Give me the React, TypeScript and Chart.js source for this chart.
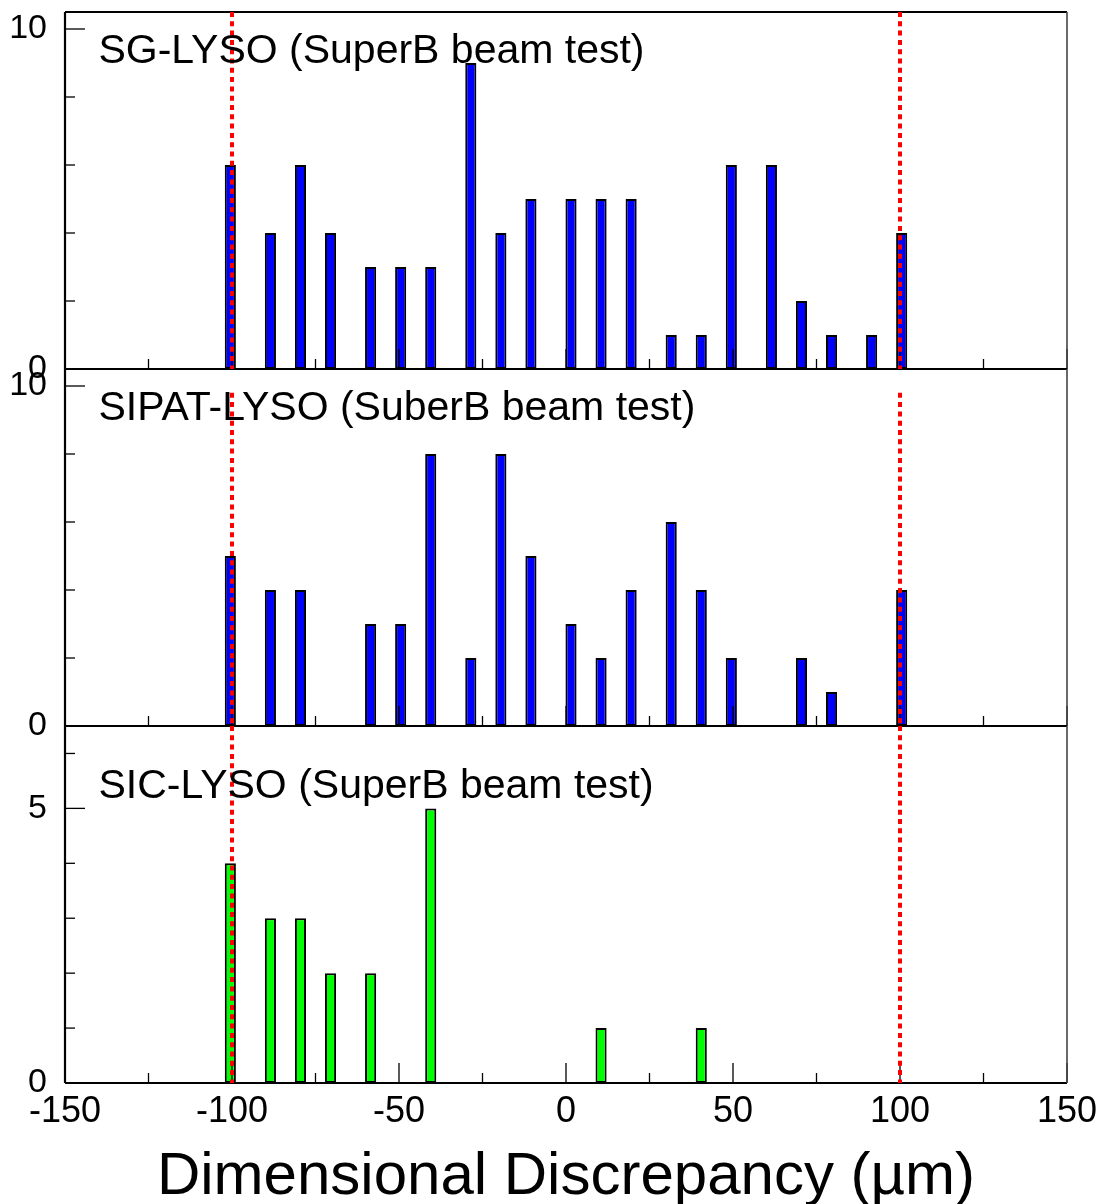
import { useEffect, useRef } from 'react';
import { Chart, registerables } from 'chart.js';

Chart.register(...registerables);

// ---- data (bin centres in µm, counts) ----
const sgX = [-100.5, -88.5, -79.5, -70.5, -58.5, -49.5, -40.5, -28.5, -19.5, -10.5, 1.5, 10.5, 19.5, 31.5, 40.5, 49.5, 61.5, 70.5, 79.5, 91.5, 100.5];
const sgCounts = [6, 4, 6, 4, 3, 3, 3, 9, 4, 5, 5, 5, 5, 1, 1, 6, 6, 2, 1, 1, 4];

const sipatX = [-100.5, -88.5, -79.5, -58.5, -49.5, -40.5, -28.5, -19.5, -10.5, 1.5, 10.5, 19.5, 31.5, 40.5, 49.5, 70.5, 79.5, 100.5];
const sipatCounts = [5, 4, 4, 3, 3, 8, 2, 8, 5, 3, 2, 4, 6, 4, 2, 2, 1, 4];

const sicX = [-100.5, -88.5, -79.5, -70.5, -58.5, -40.5, 10.5, 40.5];
const sicCounts = [4, 3, 3, 2, 2, 5, 1, 1];

const panelLabels = ['SG-LYSO (SuperB beam test)', 'SIPAT-LYSO (SuberB beam test)', 'SIC-LYSO (SuperB beam test)'];

// axes
const xMin = -150;
const xMax = 150;
const xMajorTicks = [-150, -100, -50, 0, 50, 100, 150];
const xMinorTicks = [-125, -75, -25, 25, 75, 125];
const sgYMax = 10.5;
const sipatYMax = 10.5;
const sicYMax = 6.5;
const sgYTicks = [0, 10];
const sipatYTicks = [0, 10];
const sicYTicks = [0, 5];
const sgYMinor = [2, 4, 6, 8];
const sipatYMinor = [2, 4, 6, 8];
const sicYMinor = [1, 2, 3, 4, 6];
const limitLines = [-100, 100];
const xTitle = 'Dimensional Discrepancy (µm)';

const FONT = '"Liberation Sans", Arial, Helvetica, sans-serif';

type PanelDef = { id: string; major: number[]; minor: number[]; label: string; labelOffset: number; redTop: number | null };

const panels: PanelDef[] = [
  { id: 'ySg', major: sgYTicks, minor: sgYMinor, label: panelLabels[0], labelOffset: 51, redTop: null },
  { id: 'ySipat', major: sipatYTicks, minor: sipatYMinor, label: panelLabels[1], labelOffset: 51, redTop: 9.8 },
  { id: 'ySic', major: sicYTicks, minor: sicYMinor, label: panelLabels[2], labelOffset: 72, redTop: null },
];

const line = (ctx: CanvasRenderingContext2D, x1: number, y1: number, x2: number, y2: number) => {
  ctx.beginPath();
  ctx.moveTo(x1, y1);
  ctx.lineTo(x2, y2);
  ctx.stroke();
};

const panelPlugin = {
  id: 'panelDecor',
  afterDatasetsDraw(chart: any) {
    const ctx: CanvasRenderingContext2D = chart.ctx;
    const xs = chart.scales.x;
    const { left, right } = chart.chartArea;
    ctx.save();
    panels.forEach((p) => {
      const ys = chart.scales[p.id];
      // x ticks (inside, upward)
      ctx.strokeStyle = '#000';
      ctx.lineWidth = 1.3;
      xMajorTicks.forEach((v) => {
        const px = xs.getPixelForValue(v);
        line(ctx, px, ys.bottom, px, ys.bottom - 20);
      });
      xMinorTicks.forEach((v) => {
        const px = xs.getPixelForValue(v);
        line(ctx, px, ys.bottom, px, ys.bottom - 10);
      });
      // y ticks
      p.major.forEach((v) => {
        const py = ys.getPixelForValue(v);
        line(ctx, left, py, left + 20, py);
      });
      p.minor.forEach((v) => {
        const py = ys.getPixelForValue(v);
        line(ctx, left, py, left + 10, py);
      });
      // frame
      ctx.lineWidth = 2.2;
      ctx.strokeStyle = '#000';
      line(ctx, left, ys.top, right, ys.top);
      line(ctx, left, ys.bottom, right, ys.bottom);
      line(ctx, left, ys.top, left, ys.bottom);
      ctx.strokeStyle = '#444';
      ctx.lineWidth = 1.6;
      line(ctx, right, ys.top, right, ys.bottom);
    });
    // red dotted limit lines
    ctx.strokeStyle = '#ff0000';
    ctx.lineWidth = 4;
    ctx.setLineDash([5, 4.3]);
    panels.forEach((p) => {
      const ys = chart.scales[p.id];
      const top = p.redTop === null ? ys.top : ys.getPixelForValue(p.redTop);
      limitLines.forEach((v) => {
        const px = xs.getPixelForValue(v);
        line(ctx, px, top, px, ys.bottom);
      });
    });
    ctx.setLineDash([]);
    // panel labels
    ctx.fillStyle = '#000';
    ctx.font = `41px ${FONT}`;
    ctx.textAlign = 'left';
    ctx.textBaseline = 'alphabetic';
    panels.forEach((p) => {
      const ys = chart.scales[p.id];
      ctx.fillText(p.label, xs.getPixelForValue(-140), ys.top + p.labelOffset);
    });
    ctx.restore();
  },
};

const fixY = (s: any) => {
  s.width = 65;
  s.paddingTop = 0;
  s.paddingBottom = 0;
  s.paddingLeft = 0;
  s.paddingRight = 0;
};

const yScale = (max: number, ticks: number[], weight: number) => ({
  type: 'linear',
  position: 'left',
  stack: 'panels',
  stackWeight: 1,
  weight,
  min: 0,
  max,
  grid: { display: false, drawTicks: false },
  border: { display: false },
  afterBuildTicks: (s: any) => {
    s.ticks = ticks.map((v) => ({ value: v }));
  },
  afterFit: fixY,
  ticks: {
    padding: 18,
    color: '#000',
    font: { size: 34, family: FONT },
    callback: (v: any) => String(v),
  },
});

export default function App() {
  const ref = useRef<HTMLCanvasElement>(null);
  useEffect(() => {
    const barStyle = {
      borderColor: '#000',
      borderWidth: 2,
      borderSkipped: false,
      grouped: false,
      barPercentage: 0.37,
      categoryPercentage: 1,
    };
    const chart = new Chart(ref.current as HTMLCanvasElement, {
      type: 'bar',
      data: {
        datasets: [
          { ...barStyle, label: panelLabels[0], data: sgX.map((x, i) => ({ x, y: sgCounts[i] })), backgroundColor: '#0000ff', yAxisID: 'ySg', xAxisID: 'x' },
          { ...barStyle, label: panelLabels[1], data: sipatX.map((x, i) => ({ x, y: sipatCounts[i] })), backgroundColor: '#0000ff', yAxisID: 'ySipat', xAxisID: 'x' },
          { ...barStyle, label: panelLabels[2], data: sicX.map((x, i) => ({ x, y: sicCounts[i] })), backgroundColor: '#00ff00', yAxisID: 'ySic', xAxisID: 'x' },
        ] as any,
      },
      options: {
        responsive: false,
        maintainAspectRatio: false,
        animation: false,
        devicePixelRatio: 1,
        layout: { autoPadding: false, padding: { top: 12, right: 32, left: 0, bottom: 0 } },
        plugins: { legend: { display: false }, tooltip: { enabled: false }, title: { display: false } },
        scales: {
          x: {
            type: 'linear',
            position: 'bottom',
            min: xMin,
            max: xMax,
            offset: false,
            grid: { display: false, drawTicks: false, offset: false },
            border: { display: false },
            afterBuildTicks: (s: any) => {
              s.ticks = xMajorTicks.map((v) => ({ value: v }));
            },
            afterFit: (s: any) => {
              s.height = 121;
              s.paddingLeft = 0;
              s.paddingRight = 0;
            },
            ticks: {
              padding: 7,
              color: '#000',
              autoSkip: false,
              maxRotation: 0,
              font: { size: 36, family: FONT },
              callback: (v: any) => String(v),
            },
            title: {
              display: true,
              text: xTitle,
              color: '#000',
              font: { size: 60, family: FONT, lineHeight: 0.9 },
              padding: { top: 0, bottom: 0 },
            },
          },
          ySic: yScale(sicYMax, sicYTicks, 1),
          ySipat: yScale(sipatYMax, sipatYTicks, 2),
          ySg: yScale(sgYMax, sgYTicks, 3),
        } as any,
      },
      plugins: [panelPlugin],
    } as any);
    return () => chart.destroy();
  }, []);
  return (
    <div style={{ position: 'fixed', left: 0, top: 0, width: 1099, height: 1204, background: '#fff' }}>
      <canvas ref={ref} width={1099} height={1204} style={{ display: 'block', width: 1099, height: 1204 }} />
    </div>
  );
}
